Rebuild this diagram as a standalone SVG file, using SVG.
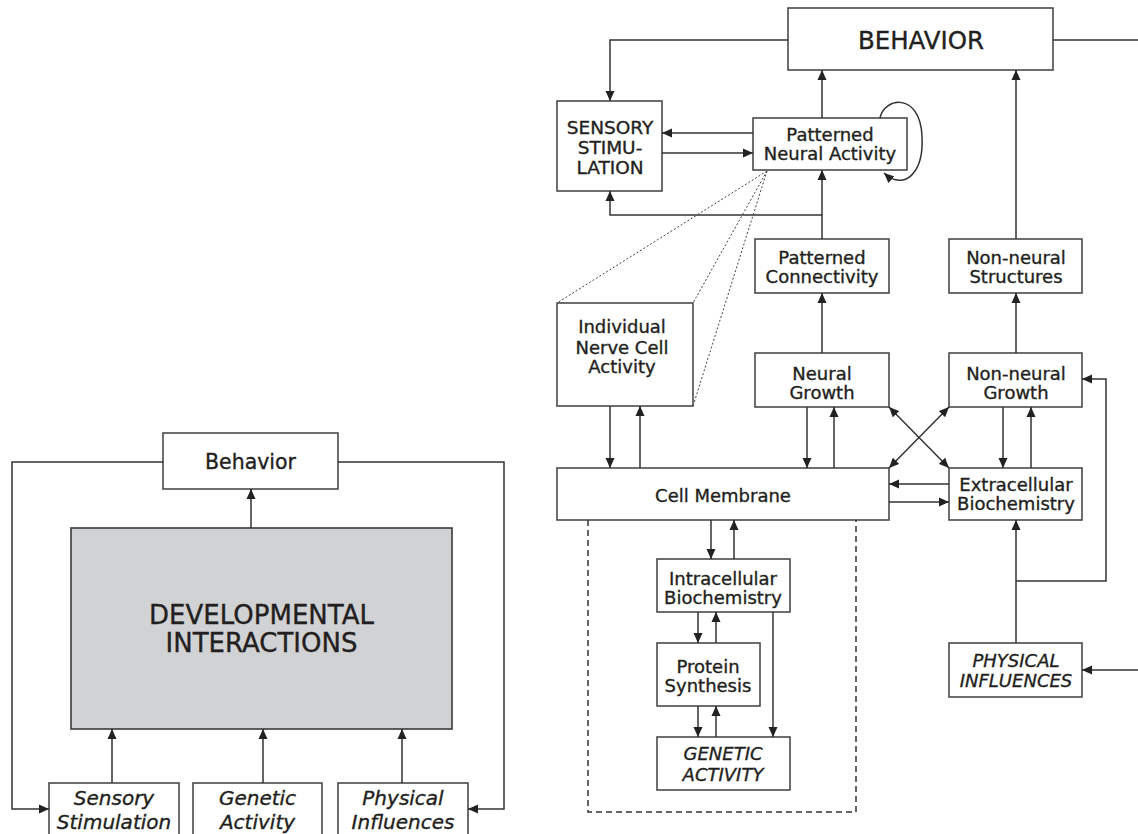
<svg xmlns="http://www.w3.org/2000/svg" width="1138" height="834" viewBox="0 0 1138 834">
<style>
.box{fill:#fff;stroke:#4a4a4a;stroke-width:1.6}
.grey{fill:#d1d2d4;stroke:#3a3a3a;stroke-width:1.6}
.ln{fill:none;stroke:#333;stroke-width:1.5}
.dot{fill:none;stroke:#444;stroke-width:1;stroke-dasharray:2,2}
.dash{fill:none;stroke:#333;stroke-width:1.5;stroke-dasharray:6,4}
text{font-family:"DejaVu Sans","Liberation Sans",sans-serif;fill:#231f20;stroke:#231f20;stroke-width:0.35;text-anchor:middle}
.t18{font-size:18px}
.t20{font-size:20px}
.it{font-style:italic}
</style>
<defs>
<marker id="a" viewBox="0 0 10 10" refX="10" refY="5" markerWidth="10" markerHeight="10" markerUnits="userSpaceOnUse" orient="auto-start-reverse">
<path d="M0,0.5 L10,5 L0,9.5 z" fill="#222"/>
</marker>
</defs>

<!-- LEFT DIAGRAM -->
<g id="l-behavior"><rect class="box" x="163" y="433" width="175" height="56"/><text x="250.5" y="469" style="font-size:20.5px">Behavior</text></g>
<g id="l-dev"><rect class="grey" x="71" y="528" width="381" height="201"/><text x="261.5" y="624" style="font-size:26px">DEVELOPMENTAL</text><text x="261.5" y="652" style="font-size:26px">INTERACTIONS</text></g>
<g id="l-sensory"><rect class="box" x="49" y="783" width="130" height="60"/><text class="t20 it" x="114" y="805">Sensory</text><text class="t20 it" x="114" y="829">Stimulation</text></g>
<g id="l-genetic"><rect class="box" x="193" y="783" width="129" height="60"/><text class="t20 it" x="257.5" y="805">Genetic</text><text class="t20 it" x="257.5" y="829">Activity</text></g>
<g id="l-physical"><rect class="box" x="338" y="783" width="130" height="60"/><text class="t20 it" x="403" y="805">Physical</text><text class="t20 it" x="403" y="829">Influences</text></g>

<!-- RIGHT DIAGRAM -->
<g id="r-behavior"><rect class="box" x="788" y="8" width="265" height="62"/><text x="921" y="49" style="font-size:24.5px">BEHAVIOR</text></g>
<g id="r-sensory"><rect class="box" x="557" y="101" width="105" height="90"/><text x="610" y="134" style="font-size:18.5px">SENSORY</text><text x="610" y="154" style="font-size:18.5px">STIMU-</text><text x="610" y="174" style="font-size:18.5px">LATION</text></g>
<g id="r-pna"><rect class="box" x="753" y="118" width="154" height="52"/><text class="t18" x="830" y="140.5">Patterned</text><text class="t18" x="830" y="159.5">Neural Activity</text></g>
<g id="r-pc"><rect class="box" x="755" y="239" width="134" height="54"/><text class="t18" x="822" y="263.5">Patterned</text><text class="t18" x="822" y="282.5">Connectivity</text></g>
<g id="r-nns"><rect class="box" x="949" y="239" width="133" height="54"/><text class="t18" x="1016" y="263.5">Non-neural</text><text class="t18" x="1016" y="282.5">Structures</text></g>
<g id="r-individual"><rect class="box" x="557" y="303" width="136" height="103"/><text class="t18" x="622" y="332.5">Individual</text><text class="t18" x="622" y="353.5">Nerve Cell</text><text class="t18" x="622" y="372.5">Activity</text></g>
<g id="r-ng"><rect class="box" x="755" y="353" width="134" height="54"/><text class="t18" x="822" y="379.5">Neural</text><text class="t18" x="822" y="398.5">Growth</text></g>
<g id="r-nng"><rect class="box" x="949" y="353" width="133" height="54"/><text class="t18" x="1016" y="379.5">Non-neural</text><text class="t18" x="1016" y="398.5">Growth</text></g>
<g id="r-cm"><rect class="box" x="557" y="468" width="332" height="52"/><text class="t18" x="723" y="501.5">Cell Membrane</text></g>
<g id="r-eb"><rect class="box" x="949" y="468" width="133" height="52"/><text class="t18" x="1016" y="490.5">Extracellular</text><text class="t18" x="1016" y="510">Biochemistry</text></g>
<g id="r-ib"><rect class="box" x="657" y="559" width="133" height="53"/><text class="t18" x="723" y="584.5">Intracellular</text><text class="t18" x="723" y="603.5">Biochemistry</text></g>
<g id="r-ps"><rect class="box" x="657" y="643" width="103" height="63"/><text class="t18" x="708" y="672.5">Protein</text><text class="t18" x="708" y="691.5">Synthesis</text></g>
<g id="r-ga"><rect class="box" x="657" y="737" width="133" height="53"/><text class="t18 it" x="723" y="759.5">GENETIC</text><text class="t18 it" x="723" y="780.5">ACTIVITY</text></g>
<g id="r-pi"><rect class="box" x="949" y="643" width="133" height="54"/><text class="t18 it" x="1016" y="666.5">PHYSICAL</text><text class="t18 it" x="1016" y="686.5">INFLUENCES</text></g>

<g id="connectors">
<!-- left -->
<path class="ln" d="M163,462 H12 V809 H49" marker-end="url(#a)"/>
<path class="ln" d="M338,462 H504 V809 H468" marker-end="url(#a)"/>
<path class="ln" d="M251,528 V489" marker-end="url(#a)"/>
<path class="ln" d="M112,783 V729" marker-end="url(#a)"/>
<path class="ln" d="M263,783 V729" marker-end="url(#a)"/>
<path class="ln" d="M402,783 V729" marker-end="url(#a)"/>
<!-- right -->
<path class="ln" d="M788,40 H610 V101" marker-end="url(#a)"/>
<path class="ln" d="M1053,40 H1138"/>
<path class="ln" d="M822,118 V70" marker-end="url(#a)"/>
<path class="ln" d="M1016,239 V70" marker-end="url(#a)"/>
<path class="ln" d="M753,133 H662" marker-end="url(#a)"/>
<path class="ln" d="M662,153 H753" marker-end="url(#a)"/>
<path class="ln" d="M880,118 C884,97 920,92 922,136 C924,172 905,192 884,173" marker-end="url(#a)"/>
<path class="ln" d="M822,239 V170" marker-end="url(#a)"/>
<path class="ln" d="M822,215 H610 V191" marker-end="url(#a)"/>
<path class="ln" d="M822,353 V293" marker-end="url(#a)"/>
<path class="ln" d="M1016,353 V293" marker-end="url(#a)"/>
<path class="ln" d="M610,406 V468" marker-end="url(#a)"/>
<path class="ln" d="M640,468 V406" marker-end="url(#a)"/>
<path class="ln" d="M807,407 V468" marker-end="url(#a)"/>
<path class="ln" d="M834,468 V407" marker-end="url(#a)"/>
<path class="ln" d="M1003,407 V468" marker-end="url(#a)"/>
<path class="ln" d="M1031,468 V407" marker-end="url(#a)"/>
<path class="ln" d="M889,407 L949,468" marker-start="url(#a)" marker-end="url(#a)"/>
<path class="ln" d="M949,407 L889,468" marker-start="url(#a)" marker-end="url(#a)"/>
<path class="ln" d="M949,484 H889" marker-end="url(#a)"/>
<path class="ln" d="M889,502 H949" marker-end="url(#a)"/>
<path class="ln" d="M1016,581 H1106 V379 H1082" marker-end="url(#a)"/>
<path class="ln" d="M1016,643 V520" marker-end="url(#a)"/>
<path class="ln" d="M1138,670 H1082" marker-end="url(#a)"/>
<path class="ln" d="M711,520 V559" marker-end="url(#a)"/>
<path class="ln" d="M734,559 V520" marker-end="url(#a)"/>
<path class="ln" d="M698,612 V643" marker-end="url(#a)"/>
<path class="ln" d="M716,643 V612" marker-end="url(#a)"/>
<path class="ln" d="M698,706 V737" marker-end="url(#a)"/>
<path class="ln" d="M716,737 V706" marker-end="url(#a)"/>
<path class="ln" d="M773,612 V737" marker-end="url(#a)"/>
<path class="dot" d="M767,171 L557,303 M767,171 L693,303 M767,171 L693,406"/>
<path class="dash" d="M588,520 V812 H856 V520"/>
</g>
</svg>
